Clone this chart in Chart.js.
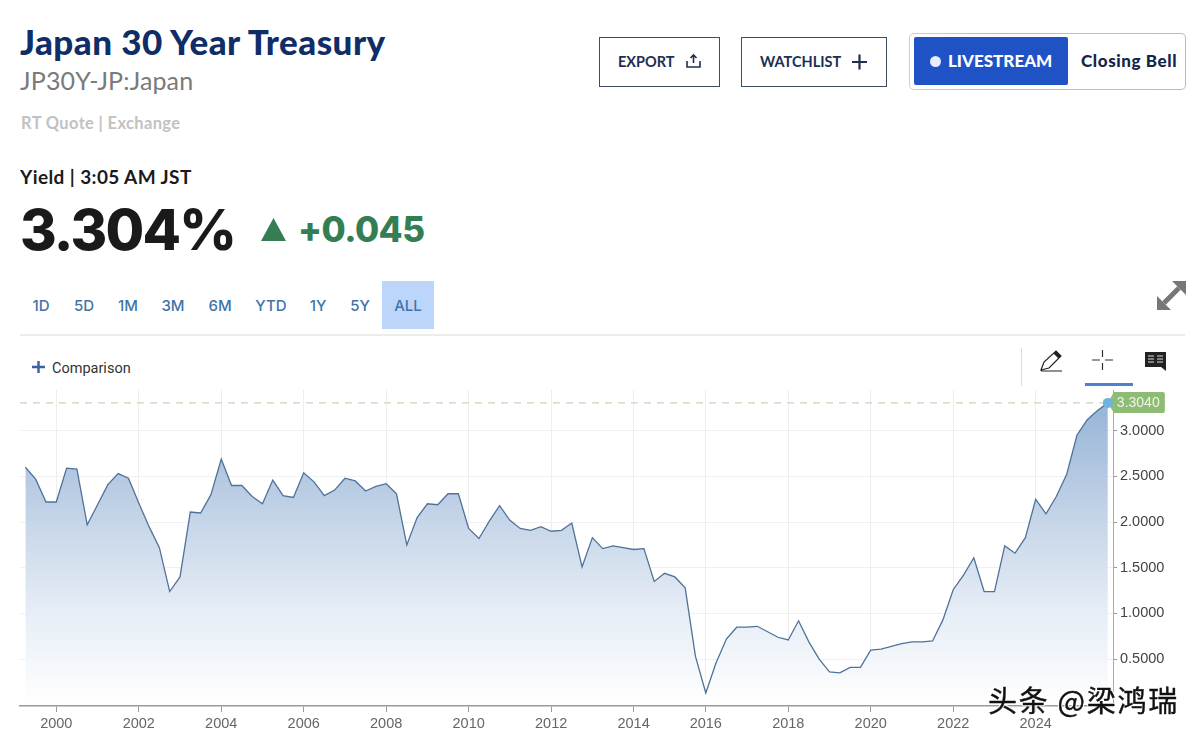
<!DOCTYPE html>
<html>
<head>
<meta charset="utf-8">
<title>Japan 30 Year Treasury</title>
<script src="https://cdn.jsdelivr.net/npm/chart.js@4"></script>
<style>
  html, body { margin: 0; padding: 0; background: #fff; }
  body { position: relative; width: 1200px; height: 739px; overflow: hidden; font-family: Lato, sans-serif; }
  .t { position: absolute; white-space: nowrap; line-height: 1; }
  .box { position: absolute; box-sizing: border-box; }
  svg { position: absolute; overflow: visible; }
  #chart { position: absolute; left: 0; top: 380px; }
  .range { top: 298px; font-size: 15px; color: #3f74a8; transform: translateX(-50%); font-family: Inter, sans-serif; font-weight: 500; }
  .btn { top: 55px; font-size: 14.500px; font-weight: 700; color: #1d2f52; }
</style>
</head>
<body>
  <div class="t" style="left:20px;top:24px;font-size:35px;font-weight:900;letter-spacing:0.450px;color:#0f2d66">Japan 30 Year Treasury</div>
  <div class="t" style="left:20px;top:68px;font-size:25px;letter-spacing:0.150px;color:#7a7a7a">JP30Y-JP:Japan</div>
  <div class="t" style="left:21px;top:115px;font-size:16.500px;font-weight:700;letter-spacing:0.350px;color:#c2c2c2">RT Quote | Exchange</div>
  <div class="t" style="left:20px;top:167px;font-size:19px;font-weight:700;letter-spacing:0.400px;color:#1a1a1a">Yield | 3:05 AM JST</div>
  <div class="t" style="left:20px;top:202px;font-family:Inter,sans-serif;font-size:56px;font-weight:800;letter-spacing:-1.800px;color:#1a1a1a">3.304%</div>
  <svg style="left:0;top:0" width="1" height="1"><polygon points="261,241 273.500,218 286,241" fill="#357e54"/></svg>
  <div class="t" style="left:298px;top:212px;font-family:Inter,sans-serif;font-size:35px;font-weight:800;letter-spacing:-0.500px;color:#357e54">+0.045</div>

  <div class="box" style="left:382px;top:281px;width:52px;height:48px;background:#bcd6fb"></div>
  <div class="t range" style="left:41px">1D</div>
  <div class="t range" style="left:84px">5D</div>
  <div class="t range" style="left:128px">1M</div>
  <div class="t range" style="left:173px">3M</div>
  <div class="t range" style="left:220px">6M</div>
  <div class="t range" style="left:271px">YTD</div>
  <div class="t range" style="left:318px">1Y</div>
  <div class="t range" style="left:360px">5Y</div>
  <div class="t range" style="left:408px">ALL</div>

  <div class="box" style="left:20px;top:334px;width:1165px;height:2px;background:#ececec"></div>

  <svg style="left:0;top:0" width="1" height="1"><path d="M32 367H45M38.500 361V373" stroke="#3a5ea8" stroke-width="2.400" fill="none"/></svg>
  <div class="t" style="left:52px;top:362px;font-family:Roboto,sans-serif;font-size:14.500px;color:#333">Comparison</div>

  <!-- buttons top right -->
  <div class="box" style="left:599px;top:37px;width:121px;height:50px;border:1px solid #3e4d66"></div>
  <div class="t btn" style="left:618px">EXPORT</div>
  <svg style="left:0;top:0" width="1" height="1"><path d="M687 61V67H700V61M693.500 63V55M690.500 58L693.500 55L696.500 58" stroke="#1d2f52" stroke-width="1.600" fill="none"/></svg>
  <div class="box" style="left:741px;top:37px;width:146px;height:50px;border:1px solid #3e4d66"></div>
  <div class="t btn" style="left:760px">WATCHLIST</div>
  <svg style="left:0;top:0" width="1" height="1"><path d="M852 62H867M859.500 54.500V69.500" stroke="#1d2f52" stroke-width="2.200" fill="none"/></svg>

  <div class="box" style="left:909px;top:33px;width:277px;height:57px;border:1px solid transparent;border-radius:5px;background:linear-gradient(#fff,#fff) padding-box,linear-gradient(90deg,#e3c8b8,#dcaab8,#a9c6da,#9ecabd) border-box"></div>
  <div class="box" style="left:914px;top:37px;width:154px;height:48px;background:#1f52c4;border-radius:2px"></div>
  <div class="box" style="left:930px;top:56px;width:11px;height:11px;background:#e6edfb;border-radius:50%"></div>
  <div class="t" style="left:948px;top:52px;font-size:17px;font-weight:900;color:#fff">LIVESTREAM</div>
  <div class="t" style="left:1081px;top:52px;font-size:17px;font-weight:900;letter-spacing:0.600px;color:#14244a">Closing Bell</div>

  <!-- expand and drawing icons -->
  <svg style="left:0;top:0" width="1" height="1">
    <path d="M1164 303L1179 288" stroke="#777" stroke-width="5"/>
    <polygon points="1157,310 1157,296 1171,310" fill="#777"/>
    <polygon points="1186,281 1186,295 1172,281" fill="#777"/>
    <path d="M1041 370L1044 362L1056 351L1061 356L1049 368L1041 370ZM1041 371H1062" stroke="#222" stroke-width="1.200" fill="none"/>
    <polygon points="1053.500,353.500 1056,351 1061,356 1058.500,358.500" fill="#222"/>
    <path d="M1092 360H1100M1105 360H1113M1102.500 350V357M1102.500 363V370" stroke="#333" stroke-width="1.200" fill="none"/>
    <path d="M1145 352H1166V371L1161 367H1145Z" fill="#222"/>
    <path d="M1148 356H1154M1148 359H1154M1148 362H1154M1157 356H1163M1157 359H1163M1157 362H1163" stroke="#ddd" stroke-width="1"/>
  </svg>
  <div class="box" style="left:1021px;top:348px;width:1px;height:38px;background:#ddd"></div>
  <div class="box" style="left:1085px;top:383px;width:48px;height:2.500px;background:#4f7fcf"></div>

  <canvas id="chart" width="1200" height="359"></canvas>

  <div class="t" style="left:988px;top:685px;font-family:'Noto Sans CJK SC',sans-serif;font-size:29px;letter-spacing:1.700px;color:#111;-webkit-text-stroke:0.400px #111;text-shadow:1px 1px 0 #fff,-1px -1px 0 #fff,1px -1px 0 #fff,-1px 1px 0 #fff">头条 @梁鸿瑞</div>

<script>
// quarters shown on the chart, the feed has no 2015-Q3 point
const quarters = [
  '1999-Q2','1999-Q3','1999-Q4',
  '2000-Q1','2000-Q2','2000-Q3','2000-Q4',
  '2001-Q1','2001-Q2','2001-Q3','2001-Q4',
  '2002-Q1','2002-Q2','2002-Q3','2002-Q4',
  '2003-Q1','2003-Q2','2003-Q3','2003-Q4',
  '2004-Q1','2004-Q2','2004-Q3','2004-Q4',
  '2005-Q1','2005-Q2','2005-Q3','2005-Q4',
  '2006-Q1','2006-Q2','2006-Q3','2006-Q4',
  '2007-Q1','2007-Q2','2007-Q3','2007-Q4',
  '2008-Q1','2008-Q2','2008-Q3','2008-Q4',
  '2009-Q1','2009-Q2','2009-Q3','2009-Q4',
  '2010-Q1','2010-Q2','2010-Q3','2010-Q4',
  '2011-Q1','2011-Q2','2011-Q3','2011-Q4',
  '2012-Q1','2012-Q2','2012-Q3','2012-Q4',
  '2013-Q1','2013-Q2','2013-Q3','2013-Q4',
  '2014-Q1','2014-Q2','2014-Q3','2014-Q4',
  '2015-Q1','2015-Q2','2015-Q4',
  '2016-Q1','2016-Q2','2016-Q3','2016-Q4',
  '2017-Q1','2017-Q2','2017-Q3','2017-Q4',
  '2018-Q1','2018-Q2','2018-Q3','2018-Q4',
  '2019-Q1','2019-Q2','2019-Q3','2019-Q4',
  '2020-Q1','2020-Q2','2020-Q3','2020-Q4',
  '2021-Q1','2021-Q2','2021-Q3','2021-Q4',
  '2022-Q1','2022-Q2','2022-Q3','2022-Q4',
  '2023-Q1','2023-Q2','2023-Q3','2023-Q4',
  '2024-Q1','2024-Q2','2024-Q3','2024-Q4',
  '2025-Q1','2025-Q2','2025-Q3','2025-Q4'
];

// yields
const yields = [
  2.60,2.47,2.22,
  2.22,2.59,2.58,1.97,
  2.19,2.41,2.53,2.48,
  2.21,1.95,1.72,1.24,
  1.40,2.11,2.10,2.30,
  2.69,2.40,2.40,2.28,
  2.20,2.46,2.29,2.27,
  2.54,2.44,2.29,2.35,
  2.48,2.45,2.34,2.39,
  2.42,2.31,1.75,2.05,
  2.20,2.19,2.31,2.31,
  1.93,1.82,2.01,2.18,
  2.02,1.93,1.91,1.95,
  1.90,1.91,1.99,1.51,
  1.83,1.71,1.74,1.72,
  1.70,1.71,1.35,1.44,
  1.40,1.28,0.53,
  0.13,0.46,0.72,0.85,
  0.85,0.86,0.80,0.74,
  0.71,0.92,0.69,0.50,
  0.36,0.35,0.41,0.41,
  0.60,0.61,0.64,0.67,
  0.69,0.69,0.70,0.93,
  1.26,1.42,1.61,1.24,
  1.24,1.74,1.66,1.83,
  2.25,2.09,2.28,2.52,
  2.95,3.12,3.22,3.304
];

const xTickYears = ['2000','2002','2004','2006','2008','2010','2012','2014','2016','2018','2020','2022','2024'];
const yTickValues = [0.5, 1, 1.5, 2, 2.5, 3];

const lastIndex = yields.length - 1;
const lastYield = yields[lastIndex];

const xMin = -0.52;
const xMax = 105.5;

// green price tag next to the last point
const lastPriceTag = {
  id: 'lastPriceTag',
  beforeDatasetsDraw(chart) {
    const { ctx } = chart;
    const x = chart.scales.x.getPixelForValue(lastIndex);
    const y = chart.scales.y.getPixelForValue(lastYield);
    ctx.save();
    ctx.fillStyle = '#8fbc74';
    ctx.beginPath();
    ctx.moveTo(x + 6, y - 11);
    ctx.lineTo(x + 55, y - 11);
    ctx.quadraticCurveTo(x + 57, y - 11, x + 57, y - 9);
    ctx.lineTo(x + 57, y + 8);
    ctx.quadraticCurveTo(x + 57, y + 10, x + 55, y + 10);
    ctx.lineTo(x + 6, y + 10);
    ctx.lineTo(x, y);
    ctx.closePath();
    ctx.fill();
    ctx.fillStyle = '#eef5e8';
    ctx.font = '14px "Liberation Sans"';
    ctx.textBaseline = 'middle';
    ctx.fillText(lastYield.toFixed(4), x + 9, y);
    ctx.restore();
  }
};

const ctx = document.getElementById('chart').getContext('2d');

new Chart(ctx, {
  type: 'line',
  data: {
    datasets: [
      {
        label: 'Yield',
        data: yields.map((v, i) => ({ x: i, y: v })),
        borderColor: '#4f7299',
        borderWidth: 1.3,
        tension: 0,
        pointRadius: c => (c.dataIndex === lastIndex ? 5 : 0),
        pointBackgroundColor: '#6fb3de',
        pointBorderWidth: 0,
        fill: 'start',
        backgroundColor: c => {
          const area = c.chart.chartArea;
          if (!area) return 'transparent';
          const g = c.chart.ctx.createLinearGradient(0, area.top, 0, area.bottom);
          g.addColorStop(0, 'rgba(145,176,213,1)');
          g.addColorStop(0.4, 'rgba(196,212,232,1)');
          g.addColorStop(0.7, 'rgba(230,237,246,1)');
          g.addColorStop(1, 'rgba(255,255,255,1)');
          return g;
        }
      },
      {
        label: 'Last',
        data: [{ x: xMin, y: lastYield }, { x: lastIndex, y: lastYield }],
        borderColor: '#cdd6b8',
        borderWidth: 1.3,
        borderDash: [7, 6],
        pointRadius: 0,
        fill: false
      }
    ]
  },
  options: {
    responsive: false,
    animation: false,
    layout: { padding: { left: 20, top: 10, right: 0, bottom: 0 } },
    plugins: { legend: { display: false }, tooltip: { enabled: false } },
    scales: {
      x: {
        type: 'linear',
        min: xMin,
        max: xMax,
        afterBuildTicks: s => { s.ticks = xTickYears.map(y => ({ value: quarters.indexOf(y + '-Q1') })); },
        afterFit: s => { s.height = 33; s.paddingLeft = 0; s.paddingRight = 0; },
        grid: { color: '#eeeeee', tickColor: '#999999', tickLength: 6 },
        border: { color: '#999999', width: 1.5, z: 1 },
        ticks: {
          autoSkip: false,
          maxRotation: 0,
          padding: 3,
          color: '#666666',
          font: { family: 'Liberation Sans', size: 14.5 },
          callback: v => quarters[v].slice(0, 4)
        }
      },
      y: {
        position: 'right',
        min: -0.012,
        max: 3.445,
        afterBuildTicks: s => { s.ticks = yTickValues.map(v => ({ value: v })); },
        afterFit: s => { s.width = 87; s.paddingTop = 0; s.paddingBottom = 0; },
        grid: { color: '#f0f0f0', tickColor: '#999999', tickLength: 4 },
        border: { color: '#aaaaaa', width: 1, z: 1 },
        ticks: {
          padding: 3,
          color: '#444444',
          font: { family: 'Liberation Sans', size: 14.5 },
          callback: v => v.toFixed(4)
        }
      }
    }
  },
  plugins: [lastPriceTag]
});
</script>
</body>
</html>
